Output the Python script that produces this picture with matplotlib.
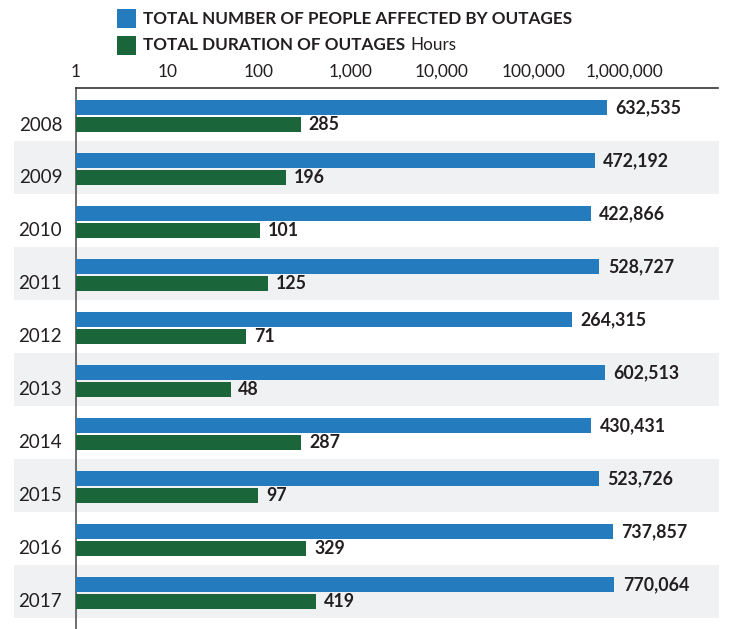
import matplotlib
matplotlib.use("Agg")
import matplotlib.pyplot as plt
from matplotlib.patches import Rectangle
import matplotlib.transforms as mtransforms
import numpy as np

years = ["2008", "2009", "2010", "2011", "2012", "2013", "2014", "2015", "2016", "2017"]
people_affected = [632535, 472192, 422866, 528727, 264315, 602513, 430431, 523726, 737857, 770064]
duration_hours = [285, 196, 101, 125, 71, 48, 287, 97, 329, 419]
tick_values = [1, 10, 100, 1000, 10000, 100000, 1000000]
tick_labels = ["1", "10", "100", "1,000", "10,000", "100,000", "1,000,000"]
legend_labels = ["TOTAL NUMBER OF PEOPLE AFFECTED BY OUTAGES", "TOTAL DURATION OF OUTAGES"]
legend_unit = "Hours"

BLUE = "#247bbd"
GREEN = "#1b653b"
GRAY = "#f0f1f3"
TXT = "#231f20"
FONT = "Lato"

W, H = 735, 629
fig = plt.figure(figsize=(W / 100, H / 100), dpi=100)
ax = fig.add_axes([76 / W, 0, (718 - 76) / W, (629 - 88) / H])

n = len(years)
y = np.arange(n)
bh = 0.29
off_b, off_g = -0.13, 0.19
ax.barh(y + off_b, people_affected, height=bh, left=1, color=BLUE, zorder=3)
ax.barh(y + off_g, duration_hours, height=bh, left=1, color=GREEN, zorder=3)

ax.set_xscale("log")
ax.set_xlim(1, 10 ** 7.02)
ax.set_ylim(9.71, -0.5)

# alternating bands
trans = mtransforms.blended_transform_factory(fig.transFigure, ax.transData)
for i in range(n):
    if i % 2 == 1:
        r = Rectangle((14 / W, i - 0.5), (719 - 14) / W, 1.0, transform=trans,
                      facecolor=GRAY, edgecolor="none", zorder=0, clip_on=False)
        fig.add_artist(r)
ax.patch.set_visible(False)

# value labels
for i in range(n):
    ax.annotate(f"{people_affected[i]:,}", (people_affected[i], y[i] + off_b),
                xytext=(6, 0), textcoords="offset points", va="center", ha="left",
                fontsize=12.8, fontweight="bold", color=TXT, family=FONT)
    ax.annotate(f"{duration_hours[i]:,}", (duration_hours[i], y[i] + off_g),
                xytext=(6, 0), textcoords="offset points", va="center", ha="left",
                fontsize=12.8, fontweight="bold", color=TXT, family=FONT)

ax.set_yticks(y + 0.17)
ax.set_yticklabels(years, fontsize=13.5, color=TXT, family=FONT)
ax.tick_params(axis="y", length=0, pad=10)

ax.xaxis.tick_top()
ax.set_xticks(tick_values)
ax.set_xticklabels(tick_labels, fontsize=12.5, color=TXT, family=FONT)
ax.xaxis.set_minor_locator(matplotlib.ticker.NullLocator())
ax.tick_params(axis="x", length=0, pad=6)

for s in ["right", "bottom"]:
    ax.spines[s].set_visible(False)
ax.spines["top"].set_color("#333333")
ax.spines["top"].set_linewidth(1.2)
ax.spines["left"].set_color("#555555")
ax.spines["left"].set_linewidth(1.2)

# legend
fig.add_artist(Rectangle((117 / W, 1 - 28 / H), 19 / W, 19 / H, transform=fig.transFigure,
                         facecolor=BLUE, edgecolor="none"))
fig.add_artist(Rectangle((117 / W, 1 - 55 / H), 19 / W, 19 / H, transform=fig.transFigure,
                         facecolor=GREEN, edgecolor="none"))
fig.text(143 / W, 1 - 18.5 / H, legend_labels[0], fontsize=12.3, fontweight="bold",
         color=TXT, family=FONT, va="center", ha="left")
t2 = fig.text(143 / W, 1 - 45.5 / H, legend_labels[1], fontsize=12.3, fontweight="bold",
              color=TXT, family=FONT, va="center", ha="left")
fig.canvas.draw()
bb = t2.get_window_extent()
fig.text((bb.x1 + 5) / W, 1 - 45.5 / H, legend_unit, fontsize=12.3,
         color=TXT, family=FONT, va="center", ha="left")

fig.savefig("out.png", dpi=100)
